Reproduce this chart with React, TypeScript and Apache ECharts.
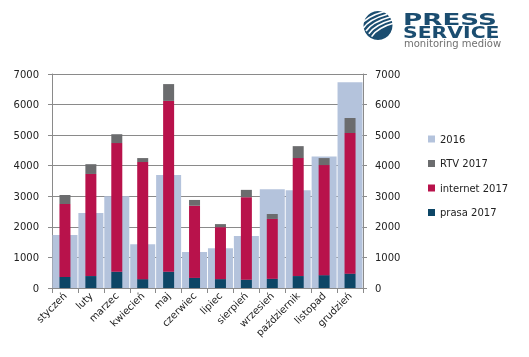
import React, { useEffect, useRef } from "react";
import * as echarts from "echarts";

const categories = ["styczeń", "luty", "marzec", "kwiecień", "maj", "czerwiec", "lipiec", "sierpień", "wrzesień", "październik", "listopad", "grudzień"];
const values2016 = [1730, 2450, 3000, 1430, 3700, 1180, 1300, 1700, 3230, 3200, 4300, 6730];
const prasa2017 = [360, 390, 530, 290, 530, 330, 290, 270, 300, 390, 420, 470];
const internet2017 = [2390, 3340, 4210, 3830, 5590, 2360, 1700, 2700, 1960, 3860, 3600, 4600];
const rtv2017 = [290, 320, 290, 130, 550, 190, 100, 240, 160, 390, 230, 490];
const yTicks = { min: 0, max: 7000, interval: 1000 };

const FONT = "DejaVu Sans, Verdana, sans-serif";

export default function App() {
  const ref = useRef<HTMLDivElement>(null);
  useEffect(() => {
    if (!ref.current) return;
    const chart = echarts.init(ref.current, null, { renderer: "svg" });
    const axisColor = "#8a8a8a";
    const labelStyle = { color: "#222", fontSize: 10, fontFamily: FONT };
    const stripes = [-8, -4, 0, 4, 8].map((o) => ({
      type: "bezierCurve",
      shape: { x1: 366 + o * 0.7, y1: 31 + o * 0.7, cpx1: 372 + o * 0.7, cpy1: 22 + o * 0.7, x2: 390 + o * 0.7, y2: 17 + o * 0.7 },
      style: { stroke: "#fff", lineWidth: 1.6, fill: null },
    }));
    const fmt = (v: number) => String(v);
    chart.setOption({
      animation: false,
      textStyle: { fontFamily: FONT },
      grid: { left: 52, right: 166, top: 74, bottom: 69, containLabel: false },
      legend: {
        orient: "vertical",
        left: 423,
        top: 129,
        itemWidth: 7,
        itemHeight: 7,
        itemGap: 14.5,
        icon: "rect",
        textStyle: { ...labelStyle, fontSize: 10 },
        data: ["2016", "RTV 2017", "internet 2017", "prasa 2017"],
      },
      xAxis: [
        {
          type: "category",
          data: categories,
          axisLine: { show: true, lineStyle: { color: axisColor } },
          axisTick: { show: true, length: 5, lineStyle: { color: axisColor } },
          axisLabel: { ...labelStyle, rotate: 45, margin: 6, interval: 0 },
        },
        { type: "category", data: categories, show: false },
      ],
      yAxis: [
        {
          type: "value",
          ...yTicks,
          position: "left",
          axisLine: { show: true, lineStyle: { color: axisColor } },
          axisTick: { show: true, length: 4, lineStyle: { color: axisColor } },
          splitLine: { show: true, lineStyle: { color: axisColor, width: 1 } },
          axisLabel: { ...labelStyle, margin: 13, formatter: fmt },
        },
        {
          type: "value",
          ...yTicks,
          position: "right",
          axisLine: { show: true, lineStyle: { color: axisColor } },
          axisTick: { show: true, length: 4, lineStyle: { color: axisColor } },
          splitLine: { show: false },
          axisLabel: { ...labelStyle, margin: 12, formatter: fmt },
        },
      ],
      series: [
        {
          name: "2016",
          type: "bar",
          xAxisIndex: 0,
          yAxisIndex: 0,
          data: values2016,
          barWidth: 25,
          itemStyle: { color: "#b4c3dc" },
        },
        {
          name: "prasa 2017",
          type: "bar",
          stack: "2017",
          xAxisIndex: 1,
          data: prasa2017,
          barWidth: 11,
          itemStyle: { color: "#0d4666" },
        },
        {
          name: "internet 2017",
          type: "bar",
          stack: "2017",
          xAxisIndex: 1,
          data: internet2017,
          barWidth: 11,
          itemStyle: { color: "#b8124b" },
        },
        {
          name: "RTV 2017",
          type: "bar",
          stack: "2017",
          xAxisIndex: 1,
          data: rtv2017,
          barWidth: 11,
          itemStyle: { color: "#6b6c6e" },
        },
      ],
      graphic: [
        { type: "circle", shape: { cx: 378, cy: 25.5, r: 14.5 }, style: { fill: "#1b4d70" } },
        ...stripes,
        {
          type: "text",
          x: 403,
          y: 12,
          scaleX: 1.75,
          style: { text: "PRESS", fill: "#1b4d70", font: "bold 15px DejaVu Sans", verticalAlign: "top" },
        },
        {
          type: "text",
          x: 403,
          y: 25,
          scaleX: 1.36,
          style: { text: "SERVICE", fill: "#1b4d70", font: "bold 15px DejaVu Sans", verticalAlign: "top" },
        },
        {
          type: "text",
          x: 404,
          y: 38,
          style: { text: "monitoring mediów", fill: "#707070", font: "10px DejaVu Sans", verticalAlign: "top" },
        },
      ],
    });
    return () => chart.dispose();
  }, []);
  return <div ref={ref} style={{ position: "fixed", left: 0, top: 0, width: 529, height: 357 }} />;
}
